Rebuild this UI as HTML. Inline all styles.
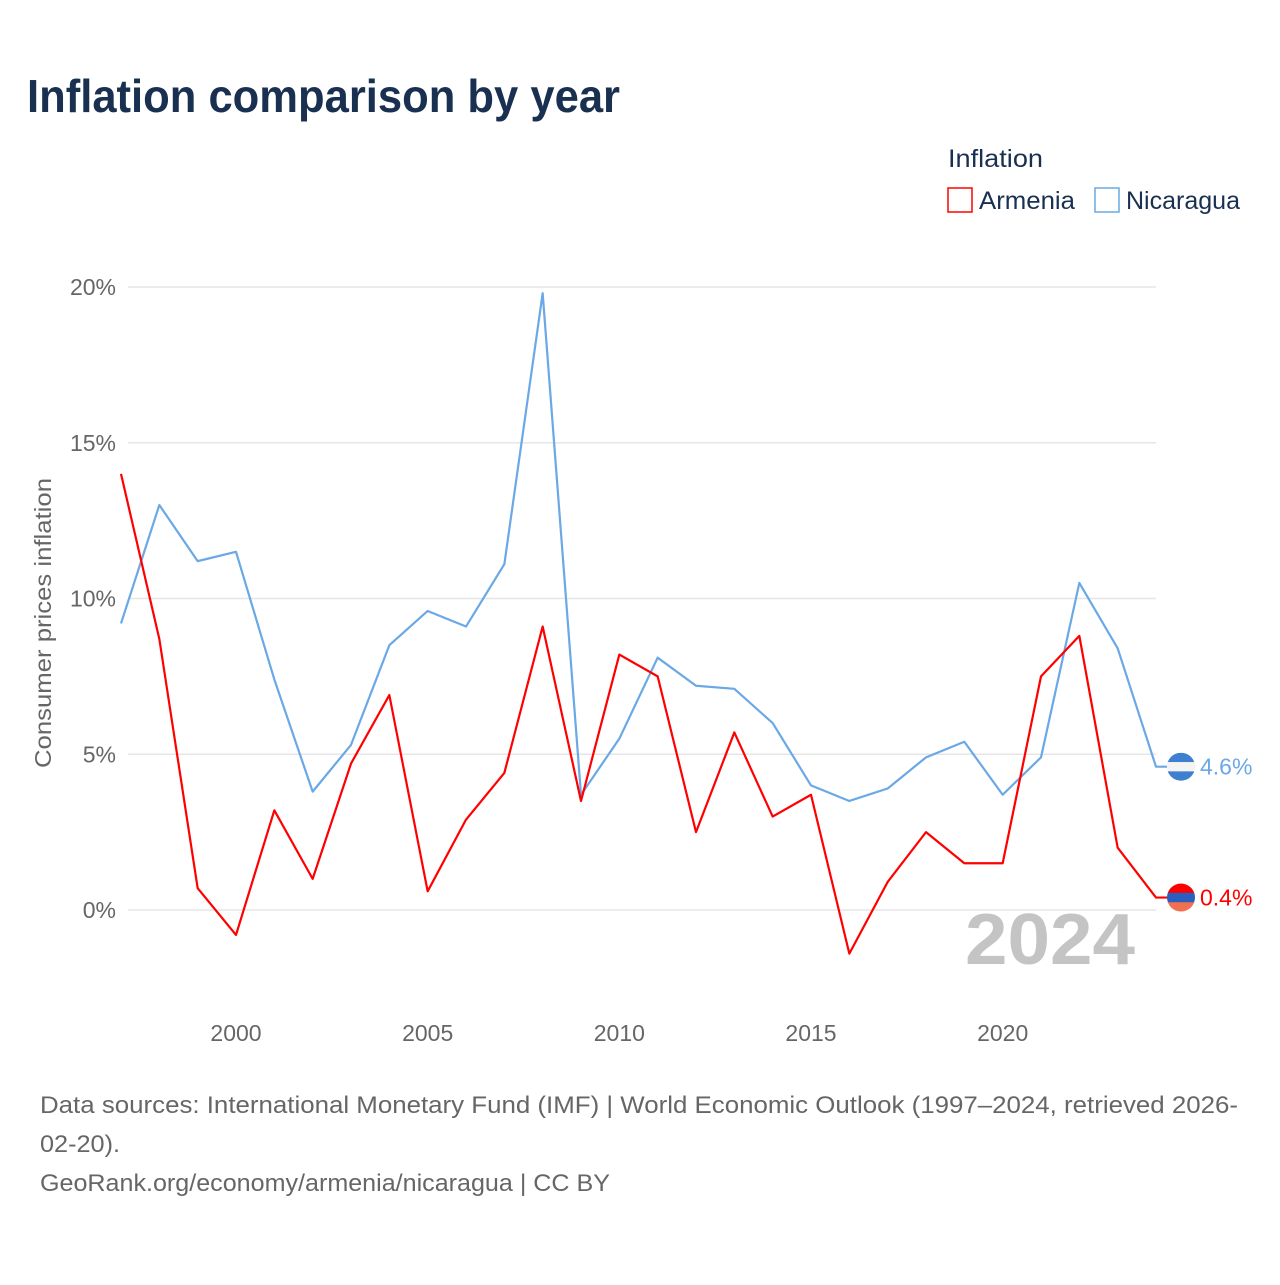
<!DOCTYPE html>
<html><head><meta charset="utf-8"><style>
body{margin:0;background:#fff;font-family:"Liberation Sans",sans-serif}
</style></head><body>
<svg width="1280" height="1280" viewBox="0 0 1280 1280" xmlns="http://www.w3.org/2000/svg" id="chart">
<rect width="1280" height="1280" fill="#fff"/>
<text x="27" y="112" font-size="46" font-weight="bold" fill="#1a3050" textLength="593" lengthAdjust="spacingAndGlyphs">Inflation comparison by year</text>
<text x="948" y="167" font-size="25" fill="#1a3050" textLength="95" lengthAdjust="spacingAndGlyphs">Inflation</text>
<g><rect x="948" y="188" width="24" height="24" fill="none" stroke="#ff0000" stroke-width="1.5"/><text x="979" y="209" font-size="25" fill="#1a3050" textLength="96" lengthAdjust="spacingAndGlyphs">Armenia</text></g>
<g><rect x="1095" y="188" width="24" height="24" fill="none" stroke="#6aa8e6" stroke-width="1.5"/><text x="1126" y="209" font-size="25" fill="#1a3050" textLength="114" lengthAdjust="spacingAndGlyphs">Nicaragua</text></g>
<text transform="translate(51,623) rotate(-90)" text-anchor="middle" font-size="23" fill="#666" textLength="290" lengthAdjust="spacingAndGlyphs">Consumer prices inflation</text>
<g id="grid"></g><g id="yticks"></g><g id="xticks"></g>
<text x="1135" y="964" text-anchor="end" font-size="72" font-weight="bold" fill="#c4c4c4" textLength="170" lengthAdjust="spacingAndGlyphs">2024</text>
<g id="series"></g>
<text x="40" y="1113" font-size="24" fill="#666" textLength="1198" lengthAdjust="spacingAndGlyphs">Data sources: International Monetary Fund (IMF) | World Economic Outlook (1997–2024, retrieved 2026-</text>
<text x="40" y="1152" font-size="24" fill="#666" textLength="80" lengthAdjust="spacingAndGlyphs">02-20).</text>
<text x="40" y="1191" font-size="24" fill="#666" textLength="570" lengthAdjust="spacingAndGlyphs">GeoRank.org/economy/armenia/nicaragua | CC BY</text>
</svg>
<script>
const years=[1997,1998,1999,2000,2001,2002,2003,2004,2005,2006,2007,2008,2009,2010,2011,2012,2013,2014,2015,2016,2017,2018,2019,2020,2021,2022,2023,2024];
const armenia=[14.0,8.7,0.7,-0.8,3.2,1.0,4.7,6.9,0.6,2.9,4.4,9.1,3.5,8.2,7.5,2.5,5.7,3.0,3.7,-1.4,0.9,2.5,1.5,1.5,7.5,8.8,2.0,0.4];
const nicaragua=[9.2,13.0,11.2,11.5,7.4,3.8,5.3,8.5,9.6,9.1,11.1,19.8,3.7,5.5,8.1,7.2,7.1,6.0,4.0,3.5,3.9,4.9,5.4,3.7,4.9,10.5,8.4,4.6];
const yTicks=[0,5,10,15,20];
const xTicks=[2000,2005,2010,2015,2020];
const NS="http://www.w3.org/2000/svg";
const X=y=>121+(y-1997)*(1156-121)/27;
const Y=v=>910-v*(910-287)/20;
function mk(t,a,p){const e=document.createElementNS(NS,t);for(const k in a)e.setAttribute(k,a[k]);p.appendChild(e);return e;}
const svg=document.getElementById('chart');
const grid=document.getElementById('grid'),yt=document.getElementById('yticks'),xt=document.getElementById('xticks'),ser=document.getElementById('series');
const defs=mk('defs',{},svg);
yTicks.forEach(v=>{
 const l=mk('line',{x1:128,x2:1156,y1:Y(v),y2:Y(v),stroke:'#e6e6e6','stroke-width':1.5},grid);
 
 
 const t=mk('text',{x:116,y:Y(v)+8,'text-anchor':'end','font-size':23,fill:'#666'},yt);t.textContent=v+'%';
 
 
});
xTicks.forEach(v=>{
 const t=mk('text',{x:X(v),y:1041,'text-anchor':'middle','font-size':23,fill:'#666'},xt);t.textContent=v;
 
 
});
function draw(vals,col,lineCol,name,label,stripes){
 const pts=vals.map((v,i)=>X(years[i])+','+Y(v)).join(' ');
 const last=vals[vals.length-1];
 const cy=Y(last);
 const p=mk('polyline',{points:pts+' '+(X(2024)+12)+','+cy,fill:'none',stroke:lineCol,'stroke-width':2.2,'stroke-linejoin':'round'},ser);
 
 
 const cp=mk('clipPath',{id:'clip-'+name},defs);
 mk('circle',{cx:1181,cy:cy,r:14},cp);
 const g=mk('g',{'clip-path':'url(#clip-'+name+')'},ser);
 
 
 stripes.forEach((c,i)=>{mk('rect',{x:1167,y:cy-14+i*28/stripes.length,width:28,height:28/stripes.length+0.5,fill:c},g);});
 const t=mk('text',{x:1200,y:cy+8,'font-size':23,fill:lineCol},ser);t.textContent=label;
 
 
}
draw(nicaragua,'#3f7fd0','#6aa8e6','nicaragua','4.6%',['#3f7fd0','#f4f4f4','#3f7fd0']);
draw(armenia,'#ff0000','#ff0000','armenia','0.4%',['#ff0000','#2a5fbf','#f07050']);
</script>
</body></html>
